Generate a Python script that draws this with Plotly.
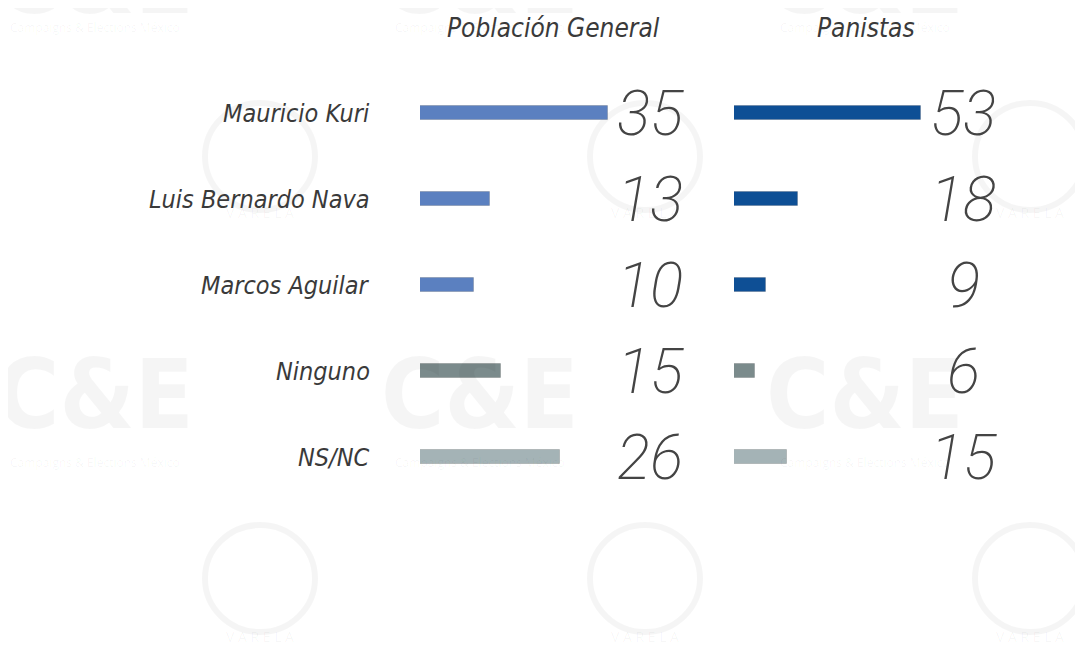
import plotly.graph_objects as go

# ---- data ----
candidates = ["Mauricio Kuri", "Luis Bernardo Nava", "Marcos Aguilar", "Ninguno", "NS/NC"]
poblacion_general = [35, 13, 10, 15, 26]
panistas = [53, 18, 9, 6, 15]
panel_titles = ["Población General", "Panistas"]

# ---- styles ----
W, H = 1083, 649
OFF = 8  # page body margin
left_colors = ["#5b80c0", "#5b80c0", "#5b80c0", "#7b8b8c", "#a4b3b6"]
right_colors = ["#0e4f95", "#0e4f95", "#0e4f95", "#7b8b8c", "#a4b3b6"]
text_color = "#3a3a3a"
label_font = "DejaVu Sans Condensed, Roboto, sans-serif"
num_font = "Roboto, sans-serif"


def px(x):
    return (x - OFF) / W


def py(y):
    return 1 - (y - OFF) / H


fig = go.Figure()
fig.add_trace(go.Bar(
    x=poblacion_general, y=candidates, orientation="h",
    xaxis="x", yaxis="y", width=0.16,
    marker=dict(color=left_colors, line=dict(width=1, color="rgba(0,0,0,0.15)")),
    hoverinfo="x+y", showlegend=False,
))
fig.add_trace(go.Bar(
    x=panistas, y=candidates, orientation="h",
    xaxis="x2", yaxis="y", width=0.16,
    marker=dict(color=right_colors, line=dict(width=1, color="rgba(0,0,0,0.15)")),
    hoverinfo="x+y", showlegend=False,
))

annotations = []
# faint watermarks (first so they sit beneath other texts)
wm = "rgba(0,0,0,0.04)"
for cx in [95, 480, 865]:
    for cy, sub in [(-20, 28), (395, 462)]:
        annotations.append(dict(
            x=px(cx), xref="paper", y=py(cy), yref="paper", xanchor="center", yanchor="middle",
            text="<b>C&amp;E</b>", showarrow=False,
            font=dict(family="DejaVu Sans Condensed, sans-serif", size=96, color=wm),
        ))
        annotations.append(dict(
            x=px(cx), xref="paper", y=py(sub), yref="paper", xanchor="center", yanchor="middle",
            text="Campaigns &amp; Elections México", showarrow=False,
            font=dict(family="Open Sans", size=12, color=wm),
        ))
shapes = []
for cx in [260, 645, 1030]:
    for cy, ty in [(158, 212), (580, 636)]:
        shapes.append(dict(
            type="circle", xref="paper", yref="paper", layer="below",
            x0=px(cx - 55), x1=px(cx + 55), y0=py(cy + 52), y1=py(cy - 55),
            line=dict(color="rgba(0,0,0,0.04)", width=6),
        ))
        annotations.append(dict(
            x=px(cx), xref="paper", y=py(ty), yref="paper", xanchor="center", yanchor="middle",
            text="V A R E L A", showarrow=False,
            font=dict(family="Open Sans", size=14, color=wm),
        ))

# category labels
for c in candidates:
    annotations.append(dict(
        x=px(372), xref="paper", y=c, yref="y", xanchor="right", yanchor="middle",
        text=f"<i>{c}</i>", showarrow=False,
        font=dict(family=label_font, size=25, color=text_color),
    ))
# value numbers
for c, v in zip(candidates, poblacion_general):
    annotations.append(dict(
        x=px(650), xref="paper", y=c, yref="y", xanchor="center", yanchor="middle",
        text=f"<i>{v}</i>", showarrow=False,
        font=dict(family=num_font, size=62, color="#444444", weight=200),
    ))
for c, v in zip(candidates, panistas):
    annotations.append(dict(
        x=px(963), xref="paper", y=c, yref="y", xanchor="center", yanchor="middle",
        text=f"<i>{v}</i>", showarrow=False,
        font=dict(family=num_font, size=62, color="#444444", weight=200),
    ))
# panel titles
for t, cx in zip(panel_titles, [553, 866]):
    annotations.append(dict(
        x=px(cx), xref="paper", y=py(28), yref="paper", xanchor="center", yanchor="middle",
        text=f"<i>{t}</i>", showarrow=False,
        font=dict(family=label_font, size=26, color=text_color),
    ))

row_px = 86.0
top_px = 113.0 - OFF
bot_px = 457.0 - OFF
fig.update_layout(
    width=W, height=H,
    margin=dict(l=0, r=0, t=0, b=0),
    paper_bgcolor="white", plot_bgcolor="rgba(0,0,0,0)",
    xaxis=dict(domain=[px(420), px(700)], range=[0, 280 / 5.37],
               visible=False, fixedrange=True),
    xaxis2=dict(domain=[px(734), px(1000)], range=[0, 266 / 3.53],
                visible=False, fixedrange=True),
    yaxis=dict(domain=[0, 1], visible=False, categoryorder="array", categoryarray=candidates,
               range=[4 + (H - bot_px) / row_px, -top_px / row_px], fixedrange=True),
    annotations=annotations,
    shapes=shapes,
    bargap=0,
)

fig.write_html("out.html")
